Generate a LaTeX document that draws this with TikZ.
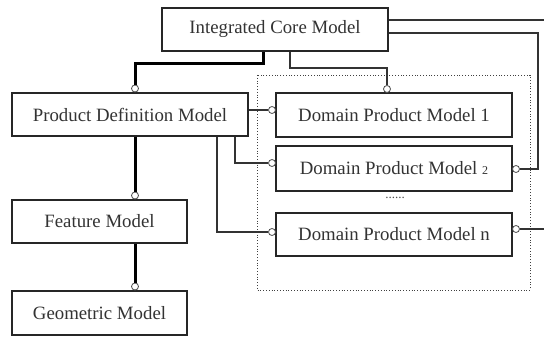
\documentclass[tikz,border=0pt]{standalone}
\usepackage{fontspec}
\setmainfont{Liberation Serif}
\begin{document}
\begin{tikzpicture}[x=1pt,y=-1pt,
  box/.style={draw=black!85, line width=1.3pt, fill=white, inner sep=0pt, text=black!80,
    font=\fontsize{18.8}{20}\selectfont},
  thin/.style={draw=black!80, line width=1.1pt},
  thick/.style={draw=black, line width=3pt},
  sock/.style={circle, draw=black!70, fill=white, line width=0.8pt, inner sep=0pt, minimum size=7pt}]
\useasboundingbox (0,0) rectangle (544,337);
% dotted group
\draw[black!75, line width=0.8pt, dotted] (257,75) rectangle (530,290);
% boxes
\node[box, minimum width=226pt, minimum height=43pt] (icm) at (275,29.5) {Integrated Core Model};
\node[box, minimum width=236pt, minimum height=43pt] (pdm) at (130,114.5) {Product Definition Model};
\node[box, minimum width=236pt, minimum height=44pt] (dpm1) at (394,115) {Domain Product Model 1};
\node[box, minimum width=236pt, minimum height=45pt] (dpm2) at (394,168.5) {Domain Product Model {\fontsize{12}{12}\selectfont 2}};
\node[box, minimum width=236pt, minimum height=43pt] (dpmn) at (394,234.5) {Domain Product Model n};
\node[box, minimum width=175pt, minimum height=43pt] (fm) at (99.5,221.5) {Feature Model};
\node[box, minimum width=175pt, minimum height=44pt] (gm) at (99.5,313) {Geometric Model};
\node[text=black!70, font=\fontsize{13}{13}\selectfont] (dots) at (395,198) {......};
% sockets
\node[sock] (s-pdm) at (135,88.5) {};
\node[sock] (s-dpm1t) at (387,89) {};
\node[sock] (s-dpm1l) at (272,110) {};
\node[sock] (s-dpm2l) at (272,163) {};
\node[sock] (s-dpmnl) at (272,232) {};
\node[sock] (s-dpm2r) at (516,169) {};
\node[sock] (s-dpmnr) at (516,229) {};
\node[sock] (s-fm) at (135,195.5) {};
\node[sock] (s-gm) at (135,286.5) {};
\coordinate (e1) at (544,20);
\coordinate (e2) at (544,229);
% connectors
\draw[thick] (icm.south -| 263,0) -- (263,64) -- (135,64) -- (s-pdm);
\draw[thin] (icm.south -| 290,0) -- (290,68) -- (387,68) -- (s-dpm1t);
\draw[thin] (icm.east |- 0,20) -- (e1);
\draw[thin] (icm.east |- 0,33) -- (538,33) -- (538,169) -- (s-dpm2r);
\draw[thin] (s-dpmnr) -- (e2);
\draw[thin] (pdm.east |- 0,110) -- (s-dpm1l);
\draw[thin] (pdm.south -| 235,0) -- (235,163) -- (s-dpm2l);
\draw[thin] (pdm.south -| 217,0) -- (217,232) -- (s-dpmnl);
\draw[thick] (pdm.south -| 135,0) -- (s-fm);
\draw[thick] (fm.south -| 135,0) -- (s-gm);
\end{tikzpicture}
\end{document}
